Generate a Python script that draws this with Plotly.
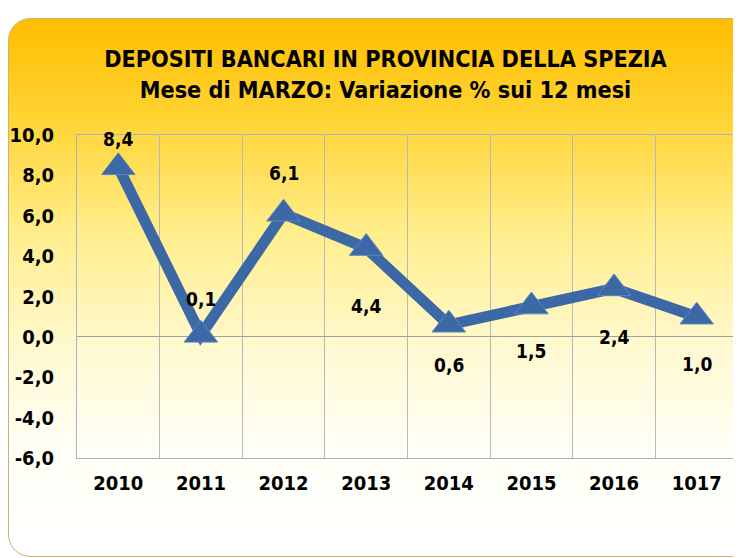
import base64
import plotly.graph_objects as go

years = ["2010", "2011", "2012", "2013", "2014", "2015", "2016", "1017"]
values = [8.4, 0.1, 6.1, 4.4, 0.6, 1.5, 2.4, 1.0]
labels = ["8,4", "0,1", "6,1", "4,4", "0,6", "1,5", "2,4", "1,0"]
y_ticks = [-6, -4, -2, 0, 2, 4, 6, 8, 10]
y_tick_text = ["-6,0", "-4,0", "-2,0", "0,0", "2,0", "4,0", "6,0", "8,0", "10,0"]

# label offsets (pixels, style only)
label_shift = [28, 36, 41, -58, -40, -44, -49, -47]

# page body has an 8px margin, so the figure is drawn 8px right/down
W, H = 733, 550
ML, MR, MT, MB = 69, 3, 127, 100
pw, ph = W - ML - MR, H - MT - MB

svg = f'''<svg xmlns="http://www.w3.org/2000/svg" width="{W}" height="{H}" viewBox="0 0 {W} {H}" preserveAspectRatio="none">
<defs><linearGradient id="g" x1="0" y1="0" x2="0" y2="1">
<stop offset="0" stop-color="#FFBD00"/>
<stop offset="0.17" stop-color="#FFD22E"/>
<stop offset="0.40" stop-color="#FFEE8C"/>
<stop offset="0.62" stop-color="#FFF9D2"/>
<stop offset="0.80" stop-color="#FFFFF6"/>
<stop offset="1" stop-color="#FFFFFF"/>
</linearGradient></defs>
<rect x="0.5" y="10.5" width="760" height="538" rx="22" ry="22" fill="url(#g)" stroke="#C9B27A" stroke-width="1"/>
</svg>'''
src = "data:image/svg+xml;base64," + base64.b64encode(svg.encode()).decode()

font_fam = "DejaVu Sans Condensed, Liberation Sans, Arial"

fig = go.Figure()
fig.add_trace(go.Scatter(
    x=years, y=values, mode="lines+markers",
    line=dict(color="#3C68A6", width=11),
    marker=dict(symbol="triangle-up", size=29, color="#3C68A6",
                line=dict(color="#5A86C0", width=1)),
    hoverinfo="skip", showlegend=False,
))

for i, (v, t, s) in enumerate(zip(values, labels, label_shift)):
    fig.add_annotation(x=i, y=v, text=f"<b>{t}</b>", showarrow=False,
                       yshift=s, font=dict(size=19, color="black", family=font_fam))

fig.update_layout(
    width=W, height=H,
    margin=dict(l=ML, r=MR, t=MT, b=MB, autoexpand=False),
    paper_bgcolor="white",
    plot_bgcolor="white",
    title=dict(
        text="<b>DEPOSITI BANCARI IN PROVINCIA DELLA SPEZIA</b><br><b>Mese di MARZO: Variazione % sui 12 mesi</b>",
        x=0.515, xanchor="center", y=0.892, yanchor="middle",
        font=dict(size=23.2, color="black", family=font_fam),
    ),
    images=[dict(source=src, xref="paper", yref="paper",
                 x=-ML / pw, y=1 + MT / ph, sizex=W / pw, sizey=H / ph,
                 xanchor="left", yanchor="top", sizing="stretch", layer="below")],
    xaxis=dict(
        type="category", range=[-0.5, len(years) - 0.5],
        tickson="boundaries", showgrid=True,
        gridcolor="#B8B8B8", gridwidth=1,
        ticks="outside", ticklen=16, tickcolor="rgba(0,0,0,0)",
        ticklabelstandoff=7,
        tickfont=dict(size=20, color="black", family=font_fam),
        tickprefix="<b>", ticksuffix="</b>",
        showline=True, linecolor="#A8B4C4", mirror=True,
        zeroline=False,
    ),
    yaxis=dict(
        range=[-6, 10], tickvals=y_ticks,
        ticktext=[f"<b>{t}</b>" for t in y_tick_text],
        showgrid=False, zeroline=True, zerolinecolor="#A0A0A0", zerolinewidth=1,
        ticks="outside", ticklen=18, tickcolor="rgba(0,0,0,0)",
        tickfont=dict(size=20, color="black", family=font_fam),
        showline=True, linecolor="#A8B4C4", mirror=True,
    ),
)

fig.write_html("out.html")
